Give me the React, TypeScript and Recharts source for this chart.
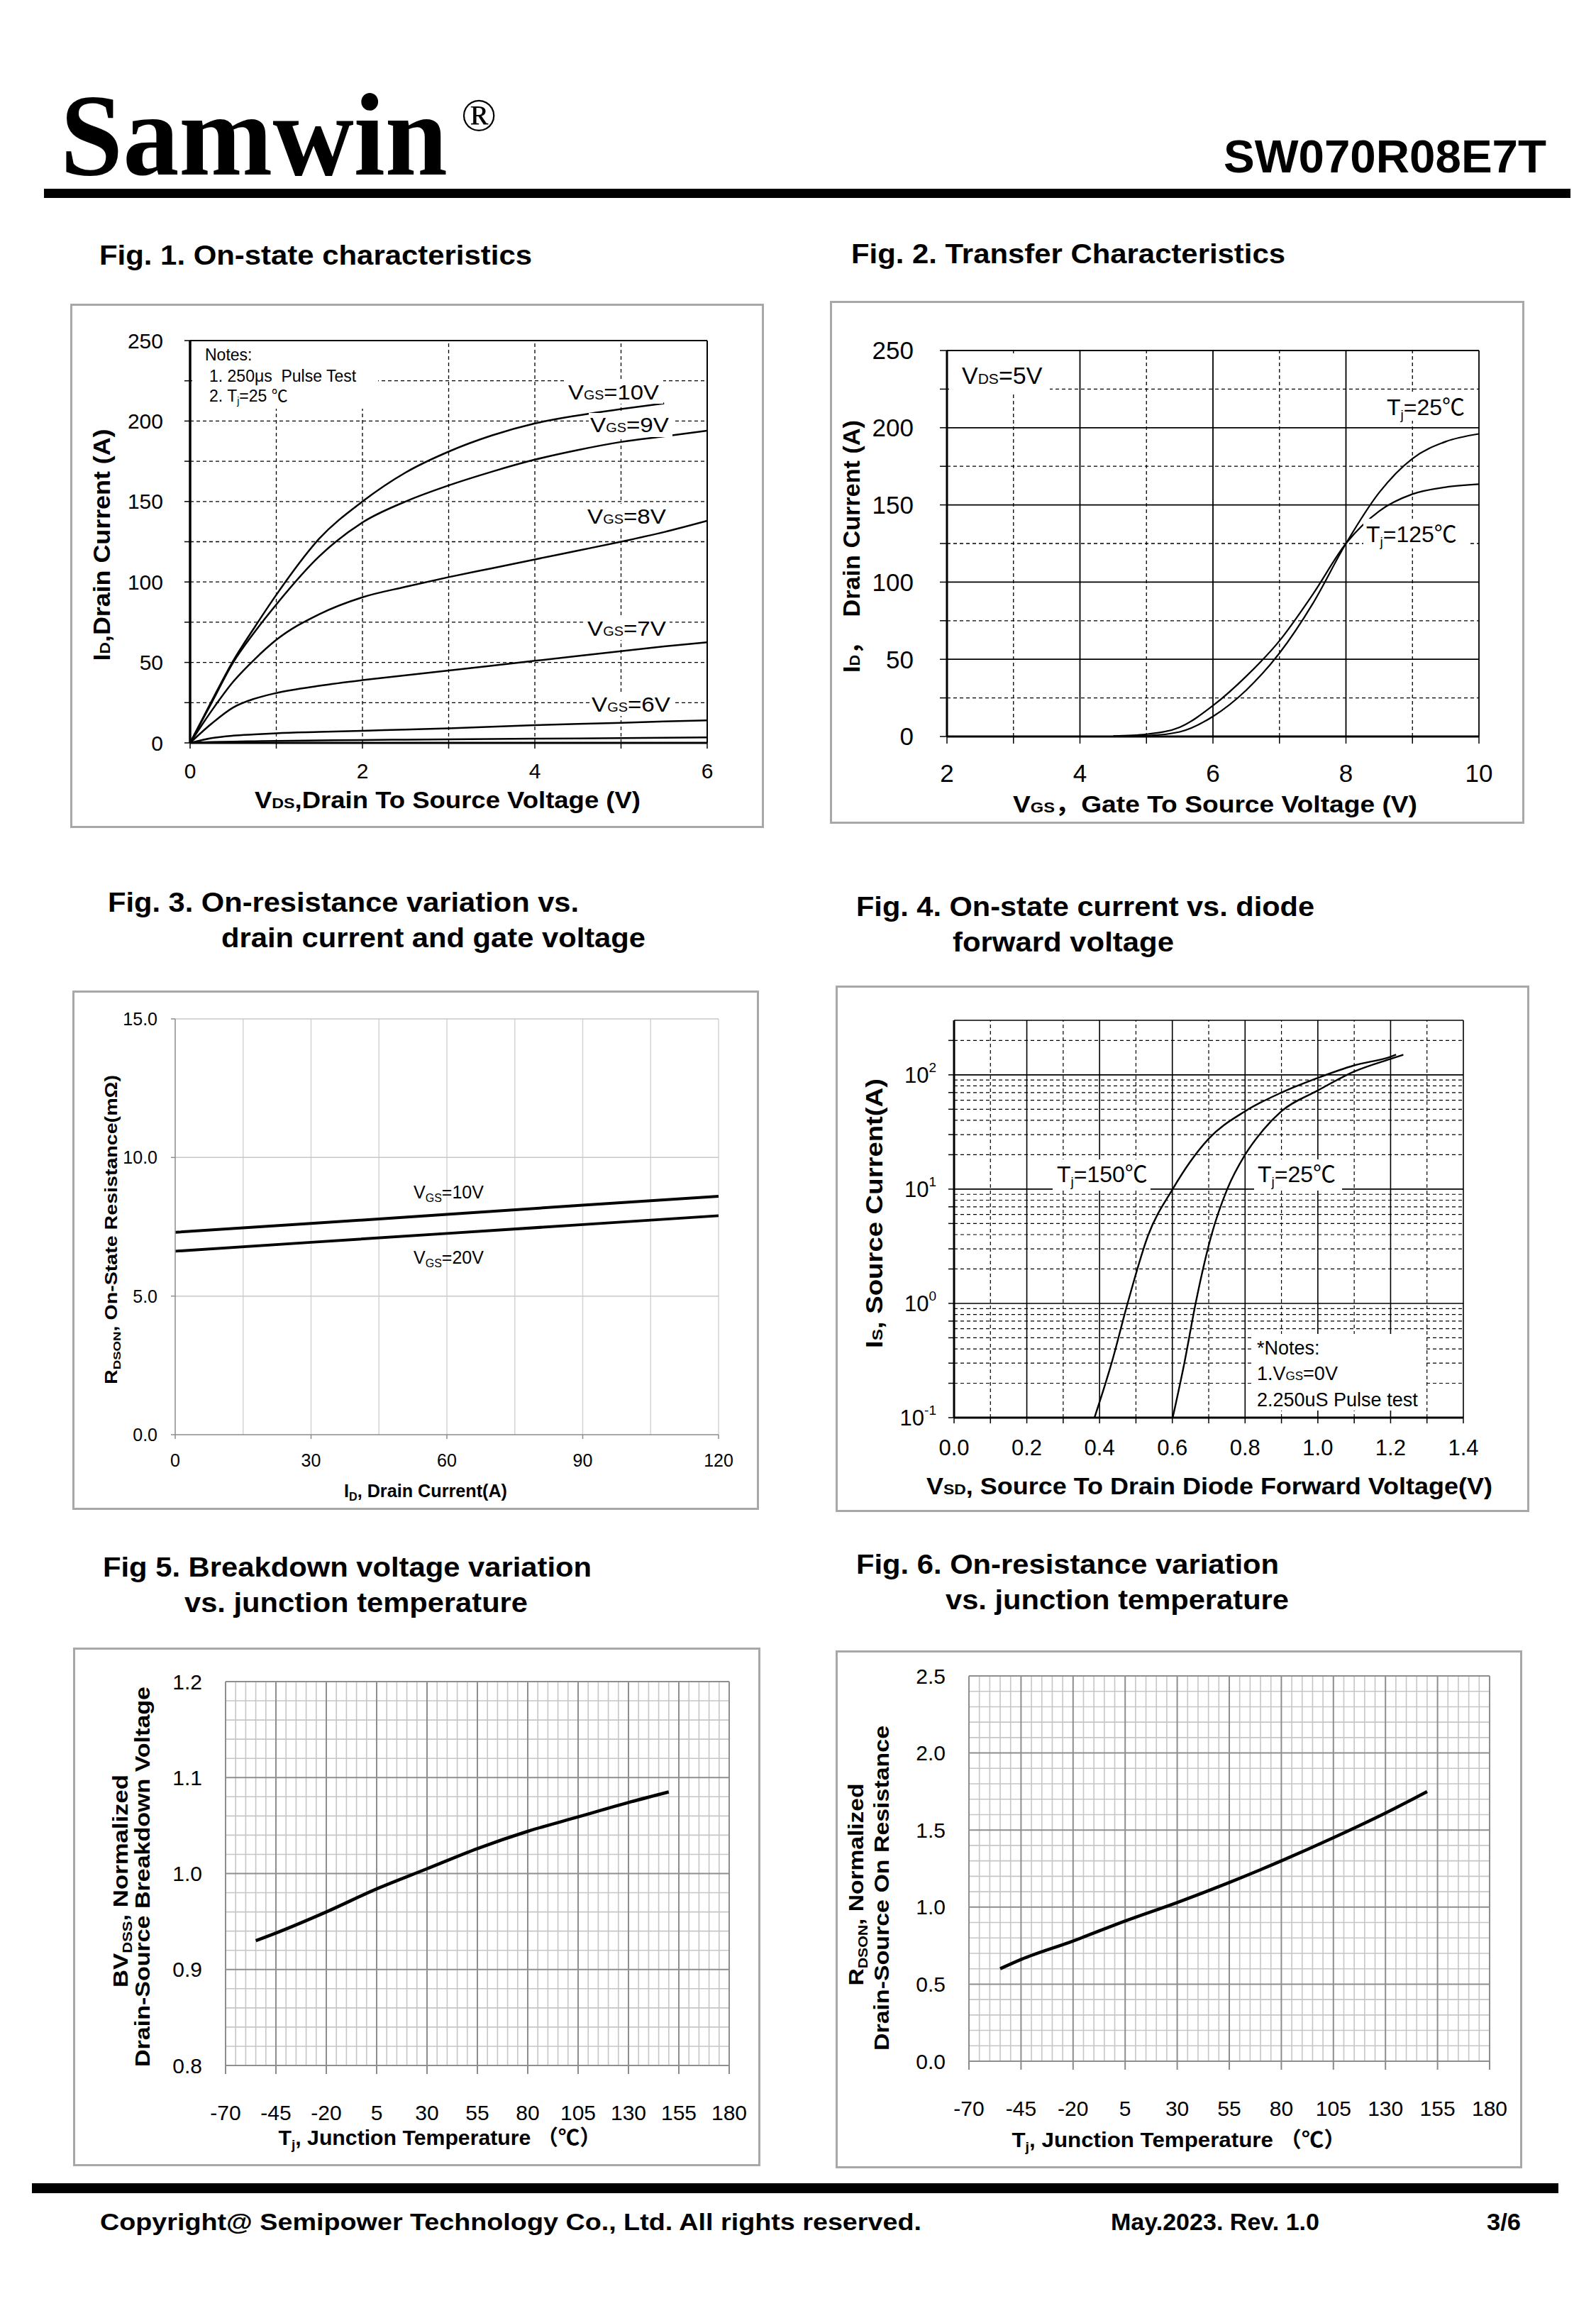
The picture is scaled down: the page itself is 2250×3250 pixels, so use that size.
import React from 'react';
import { LineChart, Line, XAxis, YAxis, ReferenceLine } from 'recharts';

const FONT = '"Liberation Sans", Arial, "Noto Sans CJK SC", sans-serif';
const SERIF = '"Liberation Serif", "Times New Roman", serif';

// ---------- Fig. 1 : on-state characteristics ----------
const f1Vds = [0, 0.25, 0.5, 0.75, 1, 1.5, 2, 2.5, 3, 3.5, 4, 4.5, 5, 5.5, 6];
const f1Vgs10 = [0, 26, 51, 72, 92, 127, 150, 168, 181, 191, 198.5, 203.5, 207.5, 211];
const f1Vgs9 = [0, 25, 50, 69, 86, 116, 137, 150, 160, 168.5, 176, 182, 187, 190.5, 194];
const f1Vgs8 = [0, 20, 38, 52, 64, 80, 90.5, 97, 103, 108.5, 114, 119.5, 125, 131, 138];
const f1Vgs7 = [0, 12, 22, 27.5, 31, 35.5, 39, 42, 45, 48, 51, 54, 57, 60, 62.5];
const f1Vgs6 = [0, 3, 4.5, 5.3, 6, 6.8, 7.5, 8.3, 9, 10, 11, 11.8, 12.5, 13.3, 14];
const f1Vgs5 = [0, 0.5, 0.8, 1, 1.2, 1.5, 1.8, 2, 2.2, 2.4, 2.6, 2.8, 3, 3.2, 3.4];
const f1XTicks = [0, 1, 2, 3, 4, 5, 6];
const f1XLabels = [0, 2, 4, 6];
const f1YTicks = [0, 25, 50, 75, 100, 125, 150, 175, 200, 225, 250];
const f1YLabels = [0, 50, 100, 150, 200, 250];

// ---------- Fig. 2 : transfer characteristics ----------
const f2Vgs = [4.5, 5, 5.5, 6, 6.5, 7, 7.5, 8, 8.5, 9, 9.5, 10];
const f2Tj25 = [0, 0.5, 3, 13, 30, 54, 86, 125, 158, 180, 191, 196];
const f2Tj125 = [0.3, 1.5, 6, 20, 39, 62, 92, 125, 146, 157, 161.5, 163.4];
const f2XTicks = [2, 3, 4, 5, 6, 7, 8, 9, 10];
const f2XLabels = [2, 4, 6, 8, 10];
const f2YTicks = [0, 25, 50, 75, 100, 125, 150, 175, 200, 225, 250];
const f2YLabels = [0, 50, 100, 150, 200, 250];

// ---------- Fig. 3 : Rdson vs drain current ----------
const f3Id = [0, 30, 60, 90, 120];
const f3Vgs10 = [7.3, 7.62, 7.95, 8.28, 8.6];
const f3Vgs20 = [6.62, 6.94, 7.26, 7.58, 7.9];
const f3XTicks = [0, 30, 60, 90, 120];
const f3XGrid = [15, 30, 45, 60, 75, 90, 105, 120];
const f3YTicks = [0, 5, 10, 15];

// ---------- Fig. 4 : diode forward voltage ----------
const f4Vsd150 = [0.386, 0.433, 0.477, 0.533, 0.601, 0.65, 0.7, 0.8, 0.9, 1.0, 1.1, 1.2, 1.215];
const f4Is150 = [0.1, 0.3, 1, 3.9, 10, 17.5, 27.6, 48, 70, 94, 121, 144, 150];
const f4Vsd25 = [0.601, 0.633, 0.664, 0.707, 0.751, 0.8, 0.85, 0.9, 1.0, 1.1, 1.2, 1.235];
const f4Is25 = [0.1, 0.3, 1, 3.9, 10, 20, 33, 48, 73, 107, 138, 150];
const f4XTicks = [0, 0.1, 0.2, 0.3, 0.4, 0.5, 0.6, 0.7, 0.8, 0.9, 1.0, 1.1, 1.2, 1.3, 1.4];
const f4XLabels = [0, 0.2, 0.4, 0.6, 0.8, 1.0, 1.2, 1.4];
const f4XMajor = [0.2, 0.4, 0.6, 0.8, 1.0, 1.2];
const f4XMinor = [0.1, 0.3, 0.5, 0.7, 0.9, 1.1, 1.3];
const f4YDecades = [1, 10, 100];
const f4YMinor = [0.2, 0.3, 0.4, 0.5, 0.6, 0.7, 0.8, 0.9, 2, 3, 4, 5, 6, 7, 8, 9, 20, 30, 40, 50, 60, 70, 80, 90, 200];
const f4YTicks = [0.1, ...f4YMinor.slice(0, 8), 1, ...f4YMinor.slice(8, 16), 10, ...f4YMinor.slice(16, 24), 100, 200];
const f4YLabels = [0.1, 1, 10, 100];
const f4YExp = ['-1', '0', '1', '2'];

// ---------- Fig. 5 : breakdown voltage vs Tj ----------
const f5Tj = [-55, -45, -20, 5, 30, 55, 80, 105, 130, 150];
const f5Bv = [0.93, 0.938, 0.96, 0.984, 1.005, 1.026, 1.044, 1.059, 1.074, 1.085];
const tjTicks = [-70, -45, -20, 5, 30, 55, 80, 105, 130, 155, 180];
const f5YTicks = [0.8, 0.9, 1.0, 1.1, 1.2];

// ---------- Fig. 6 : Rdson vs Tj ----------
const f6Tj = [-55, -45, -20, 5, 30, 55, 80, 105, 130, 150];
const f6Rn = [0.6, 0.66, 0.78, 0.91, 1.03, 1.16, 1.3, 1.45, 1.61, 1.75];
const f6YTicks = [0, 0.5, 1.0, 1.5, 2.0, 2.5];

const zip = (xs: number[], ys: number[]) => ys.map((y, i) => ({ x: xs[i], y }));
const range = (a: number, b: number, step: number) => {
  const out: number[] = [];
  for (let v = a; v <= b + 1e-9; v += step) out.push(Math.round(v * 1000) / 1000);
  return out;
};

type Box = [number, number, number, number];
const geo = (box: Box, plot: Box) => ({
  left: box[0],
  top: box[1],
  w: box[2] - box[0],
  h: box[3] - box[1],
  margin: { top: plot[1] - box[1], right: box[2] - plot[2], left: 0, bottom: 0 },
  yw: plot[0] - box[0],
  xh: box[3] - plot[3],
});

const g1 = geo([99, 428, 1077, 1167], [268, 480, 997, 1047]);
const g2 = geo([1170, 424, 2149, 1161], [1335, 494, 2085, 1038]);
const g3 = geo([102, 1396, 1070, 2128], [247, 1436, 1013, 2022]);
const g4 = geo([1178, 1389, 2156, 2131], [1345, 1438, 2063, 1998]);
const g5 = geo([103, 2322, 1072, 3053], [318, 2370, 1028, 2911]);
const g6 = geo([1178, 2326, 2146, 3056], [1366, 2362, 2100, 2905]);

const hl = (k: string, vals: number[], stroke: string, w: number, dash?: string) =>
  vals.map((v) => (
    <ReferenceLine key={k + 'y' + v} y={v} stroke={stroke} strokeWidth={w} strokeDasharray={dash} />
  ));
const vl = (k: string, vals: number[], stroke: string, w: number, dash?: string) =>
  vals.map((v) => (
    <ReferenceLine key={k + 'x' + v} x={v} stroke={stroke} strokeWidth={w} strokeDasharray={dash} />
  ));

const DASH = '5 4';

function Frame({ g }: { g: ReturnType<typeof geo> }) {
  return (
    <div
      style={{
        position: 'absolute',
        left: g.left,
        top: g.top,
        width: g.w,
        height: g.h,
        border: '3px solid #a8a8a8',
        boxSizing: 'border-box',
      }}
    />
  );
}

function At({ g, children }: { g: ReturnType<typeof geo>; children: React.ReactNode }) {
  return <div style={{ position: 'absolute', left: g.left, top: g.top }}>{children}</div>;
}

const tickFont = (s: number) => ({ fill: '#000', fontSize: s, fontFamily: FONT });

function LogTick(props: any) {
  const { x, y, payload } = props;
  const i = f4YLabels.indexOf(payload.value);
  if (i < 0) return <g />;
  return (
    <text x={x} y={y} dy={11} textAnchor="end" fontFamily={FONT} fontSize={31} fill="#000">
      10<tspan dy={-15} fontSize={19}>{f4YExp[i]}</tspan>
    </text>
  );
}

function Fig1() {
  const series = [f1Vgs10, f1Vgs9, f1Vgs8, f1Vgs7, f1Vgs6, f1Vgs5];
  return (
    <At g={g1}>
      <LineChart width={g1.w} height={g1.h} margin={g1.margin}>
        <XAxis
          type="number"
          dataKey="x"
          domain={[0, 6]}
          ticks={f1XTicks}
          tickFormatter={(v: number) => (f1XLabels.includes(v) ? String(v) : '')}
          height={g1.xh}
          axisLine={{ stroke: '#000', strokeWidth: 3 }}
          tickLine={{ stroke: '#000', strokeWidth: 1.5 }}
          tickSize={8}
          tickMargin={21}
          tick={tickFont(30)}
          allowDataOverflow
        />
        <YAxis
          type="number"
          domain={[0, 250]}
          ticks={f1YTicks}
          tickFormatter={(v: number) => (f1YLabels.includes(v) ? String(v) : '')}
          width={g1.yw}
          axisLine={{ stroke: '#000', strokeWidth: 3.5 }}
          tickLine={{ stroke: '#000', strokeWidth: 1.5 }}
          tickSize={8}
          tickMargin={30}
          tick={tickFont(30)}
          allowDataOverflow
        />
        {hl('a', [25, 50, 75, 100, 125, 150, 175, 200, 225], '#000', 1.3, DASH)}
        {vl('a', [1, 2, 3, 4, 5], '#000', 1.3, DASH)}
        {hl('f', [250], '#000', 2)}
        {vl('f', [6], '#000', 2)}
        {series.map((s, i) => (
          <Line
            key={'s' + i}
            data={zip(f1Vds, s)}
            dataKey="y"
            type="monotone"
            stroke="#000"
            strokeWidth={2.5}
            dot={false}
            isAnimationActive={false}
          />
        ))}
      </LineChart>
    </At>
  );
}

function Fig2() {
  return (
    <At g={g2}>
      <LineChart width={g2.w} height={g2.h} margin={g2.margin}>
        <XAxis
          type="number"
          dataKey="x"
          domain={[2, 10]}
          ticks={f2XTicks}
          tickFormatter={(v: number) => (f2XLabels.includes(v) ? String(v) : '')}
          height={g2.xh}
          axisLine={{ stroke: '#000', strokeWidth: 3 }}
          tickLine={{ stroke: '#000', strokeWidth: 1.5 }}
          tickSize={10}
          tickMargin={29}
          tick={tickFont(35)}
          allowDataOverflow
        />
        <YAxis
          type="number"
          domain={[0, 250]}
          ticks={f2YTicks}
          tickFormatter={(v: number) => (f2YLabels.includes(v) ? String(v) : '')}
          width={g2.yw}
          axisLine={{ stroke: '#000', strokeWidth: 3 }}
          tickLine={{ stroke: '#000', strokeWidth: 1.5 }}
          tickSize={10}
          tickMargin={37}
          tick={tickFont(35)}
          allowDataOverflow
        />
        {hl('d', [25, 75, 125, 175, 225], '#000', 1.3, DASH)}
        {vl('d', [3, 5, 7, 9], '#000', 1.3, DASH)}
        {hl('s', [50, 100, 150, 200, 250], '#000', 1.8)}
        {vl('s', [4, 6, 8, 10], '#000', 1.8)}
        <Line data={zip(f2Vgs, f2Tj25)} dataKey="y" type="monotone" stroke="#000" strokeWidth={2.2} dot={false} isAnimationActive={false} />
        <Line data={zip(f2Vgs, f2Tj125)} dataKey="y" type="monotone" stroke="#000" strokeWidth={2.2} dot={false} isAnimationActive={false} />
      </LineChart>
    </At>
  );
}

function Fig3() {
  return (
    <At g={g3}>
      <LineChart width={g3.w} height={g3.h} margin={g3.margin}>
        <XAxis
          type="number"
          dataKey="x"
          domain={[0, 120]}
          ticks={f3XTicks}
          height={g3.xh}
          axisLine={{ stroke: '#8c8c8c', strokeWidth: 1.5 }}
          tickLine={{ stroke: '#8c8c8c', strokeWidth: 1.5 }}
          tickSize={6}
          tickMargin={21}
          tick={tickFont(25)}
        />
        <YAxis
          type="number"
          domain={[0, 15]}
          ticks={f3YTicks}
          tickFormatter={(v: number) => v.toFixed(1)}
          width={g3.yw}
          axisLine={{ stroke: '#8c8c8c', strokeWidth: 1.5 }}
          tickLine={{ stroke: '#8c8c8c', strokeWidth: 1.5 }}
          tickSize={6}
          tickMargin={19}
          tick={tickFont(25)}
        />
        {vl('g', f3XGrid, '#d4d4d4', 1.5)}
        {hl('g', [5, 10, 15], '#c8c8c8', 1.5)}
        <Line data={zip(f3Id, f3Vgs10)} dataKey="y" type="linear" stroke="#000" strokeWidth={4} dot={false} isAnimationActive={false} />
        <Line data={zip(f3Id, f3Vgs20)} dataKey="y" type="linear" stroke="#000" strokeWidth={4} dot={false} isAnimationActive={false} />
      </LineChart>
    </At>
  );
}

function Fig4() {
  return (
    <At g={g4}>
      <LineChart width={g4.w} height={g4.h} margin={g4.margin}>
        <XAxis
          type="number"
          dataKey="x"
          domain={[0, 1.4]}
          ticks={f4XTicks}
          tickFormatter={(v: number) => (f4XLabels.includes(v) ? v.toFixed(1) : '')}
          height={g4.xh}
          axisLine={{ stroke: '#000', strokeWidth: 3 }}
          tickLine={{ stroke: '#000', strokeWidth: 1.5 }}
          tickSize={8}
          tickMargin={23}
          tick={tickFont(31)}
          allowDataOverflow
        />
        <YAxis
          type="number"
          scale="log"
          domain={[0.1, 300]}
          ticks={f4YTicks}
          tick={LogTick}
          width={g4.yw}
          axisLine={{ stroke: '#000', strokeWidth: 3 }}
          tickLine={{ stroke: '#000', strokeWidth: 1.5 }}
          tickSize={8}
          tickMargin={17}
          allowDataOverflow
        />
        {hl('d', f4YMinor, '#000', 1.2, DASH)}
        {vl('d', f4XMinor, '#000', 1.2, DASH)}
        {hl('s', [...f4YDecades, 300], '#000', 1.6)}
        {vl('s', [...f4XMajor, 1.4], '#000', 1.6)}
        <Line data={zip(f4Vsd150, f4Is150)} dataKey="y" type="monotone" stroke="#000" strokeWidth={2.4} dot={false} isAnimationActive={false} />
        <Line data={zip(f4Vsd25, f4Is25)} dataKey="y" type="monotone" stroke="#000" strokeWidth={2.4} dot={false} isAnimationActive={false} />
      </LineChart>
    </At>
  );
}

function TjChart({
  g,
  xs,
  ys,
  yDomain,
  yTicks,
  yMinor,
  yMajor,
}: {
  g: ReturnType<typeof geo>;
  xs: number[];
  ys: number[];
  yDomain: [number, number];
  yTicks: number[];
  yMinor: number[];
  yMajor: number[];
}) {
  return (
    <At g={g}>
      <LineChart width={g.w} height={g.h} margin={g.margin}>
        <XAxis
          type="number"
          dataKey="x"
          domain={[-70, 180]}
          ticks={tjTicks}
          height={g.xh}
          axisLine={false}
          tickLine={{ stroke: '#8a8a8a', strokeWidth: 2 }}
          tickSize={12}
          tickMargin={44}
          tick={tickFont(30)}
        />
        <YAxis
          type="number"
          domain={yDomain}
          ticks={yTicks}
          tickFormatter={(v: number) => v.toFixed(1)}
          width={g.yw}
          axisLine={false}
          tickLine={false}
          tickSize={0}
          tickMargin={33}
          tick={tickFont(30)}
        />
        {vl('m', range(-65, 175, 5).filter((v) => (v + 70) % 25 !== 0), '#c6c6c6', 1.6)}
        {hl('m', yMinor, '#c6c6c6', 1.6)}
        {vl('M', tjTicks, '#8e8e8e', 2)}
        {hl('M', yMajor, '#8e8e8e', 2)}
        <Line data={zip(xs, ys)} dataKey="y" type="monotone" stroke="#000" strokeWidth={4.5} dot={false} isAnimationActive={false} />
      </LineChart>
    </At>
  );
}

type TP = {
  x: number;
  y: number;
  s: number;
  b?: boolean;
  a?: 'start' | 'middle' | 'end';
  len?: number;
  rot?: boolean;
  fam?: string;
  children: React.ReactNode;
};
function Tx({ x, y, s, b, a = 'start', len, rot, fam, children }: TP) {
  const common: any = {
    fontSize: s,
    fontWeight: b ? 'bold' : 'normal',
    fontFamily: fam ?? FONT,
    fill: '#000',
    textAnchor: a,
    style: { whiteSpace: 'pre' },
  };
  if (len) {
    common.textLength = len;
    common.lengthAdjust = 'spacingAndGlyphs';
  }
  if (rot)
    return (
      <text transform={`translate(${x},${y}) rotate(-90)`} dy="0.36em" {...common}>
        {children}
      </text>
    );
  return (
    <text x={x} y={y} {...common}>
      {children}
    </text>
  );
}

const W = (x: number, y: number, w: number, h: number) => <rect x={x} y={y} width={w} height={h} fill="#fff" />;

// small subscript sitting on the baseline (datasheet style "VGS")
const sub = (t: string, s: number) => <tspan fontSize={s}>{t}</tspan>;
// lowered subscript followed by the rest of the text
const low = (t: string, s: number, d: number, rest: string) => (
  <>
    <tspan fontSize={s} dy={d}>{t}</tspan>
    <tspan dy={-d}>{rest}</tspan>
  </>
);

function Overlay() {
  return (
    <svg width={2250} height={3250} style={{ position: 'absolute', left: 0, top: 0, pointerEvents: 'none' }}>
      {/* header */}
      <Tx x={85} y={246} s={165} b fam={SERIF} len={546}>Samwin</Tx>
      <Tx x={650} y={184} s={66} fam={SERIF}>®</Tx>
      <Tx x={2180} y={243} s={64} b a="end" len={455}>SW070R08E7T</Tx>
      <rect x={62} y={266} width={2152} height={13} fill="#000" />

      {/* figure titles */}
      <Tx x={140} y={373} s={38} b len={610}>Fig. 1. On-state characteristics</Tx>
      <Tx x={1200} y={371} s={38} b len={612}>Fig. 2. Transfer Characteristics</Tx>
      <Tx x={152} y={1285} s={38} b len={664}>Fig. 3. On-resistance variation vs.</Tx>
      <Tx x={312} y={1335} s={38} b len={598}>drain current and gate voltage</Tx>
      <Tx x={1207} y={1291} s={38} b len={646}>Fig. 4. On-state current vs. diode</Tx>
      <Tx x={1343} y={1341} s={38} b len={312}>forward voltage</Tx>
      <Tx x={145} y={2222} s={38} b len={689}>Fig 5. Breakdown voltage variation</Tx>
      <Tx x={260} y={2272} s={38} b len={484}>vs. junction temperature</Tx>
      <Tx x={1207} y={2218} s={38} b len={596}>Fig. 6. On-resistance variation</Tx>
      <Tx x={1333} y={2268} s={38} b len={484}>vs. junction temperature</Tx>

      {/* Fig 1 annotations */}
      {W(271, 484, 262, 92)}
      <Tx x={289} y={508} s={23}>Notes:</Tx>
      <Tx x={295} y={538} s={23}>1. 250μs  Pulse Test</Tx>
      <Tx x={295} y={566} s={23}>
        2. T{low('j', 14, 4, '=25 ℃')}
      </Tx>
      {W(799, 535, 136, 34)}
      <Tx x={801} y={563} s={30} len={128}>V{sub('GS', 18)}=10V</Tx>
      {W(830, 582, 118, 34)}
      <Tx x={832} y={609} s={30} len={111}>V{sub('GS', 18)}=9V</Tx>
      {W(826, 710, 118, 34)}
      <Tx x={828} y={738} s={30} len={111}>V{sub('GS', 18)}=8V</Tx>
      {W(826, 868, 118, 34)}
      <Tx x={828} y={896} s={30} len={111}>V{sub('GS', 18)}=7V</Tx>
      {W(832, 975, 118, 34)}
      <Tx x={834} y={1003} s={30} len={111}>V{sub('GS', 18)}=6V</Tx>
      <Tx x={631} y={1139} s={33} b a="middle" len={544}>
        V{sub('DS', 21)},Drain To Source Voltage (V)
      </Tx>
      <Tx x={143} y={768} s={33} b a="middle" rot len={327}>
        I{sub('D', 21)},Drain Current (A)
      </Tx>

      {/* Fig 2 annotations */}
      {W(1338, 500, 142, 56)}
      <Tx x={1356} y={541} s={34}>V{sub('DS', 21)}=5V</Tx>
      {W(1950, 553, 122, 40)}
      <Tx x={1955} y={585} s={32}>
        T{low('j', 19, 6, '=25℃')}
      </Tx>
      {W(1922, 731, 150, 42)}
      <Tx x={1926} y={764} s={32}>
        T{low('j', 19, 6, '=125℃')}
      </Tx>
      <Tx x={1713} y={1145} s={33} b a="middle" len={570}>
        V{sub('GS', 21)}，Gate To Source Voltage (V)
      </Tx>
      <Tx x={1200} y={770} s={33} b a="middle" rot len={356}>
        I{sub('D', 21)}，  Drain Current (A)
      </Tx>

      {/* Fig 3 annotations */}
      <Tx x={583} y={1689} s={25}>
        V{low('GS', 16, 5, '=10V')}
      </Tx>
      <Tx x={583} y={1781} s={25}>
        V{low('GS', 16, 5, '=20V')}
      </Tx>
      <Tx x={600} y={2110} s={25} b a="middle" len={230}>
        I{low('D', 16, 5, ', Drain Current(A)')}
      </Tx>
      <Tx x={157} y={1733} s={23} b a="middle" rot len={436}>
        R{low('DSON', 15, 5, ', On-State Resistance(mΩ)')}
      </Tx>

      {/* Fig 4 annotations */}
      {W(1484, 1634, 138, 44)}
      <Tx x={1490} y={1666} s={32}>
        T{low('j', 19, 6, '=150℃')}
      </Tx>
      {W(1768, 1634, 124, 44)}
      <Tx x={1773} y={1666} s={32}>
        T{low('j', 19, 6, '=25℃')}
      </Tx>
      {W(1766, 1880, 244, 108)}
      <Tx x={1772} y={1909} s={27}>*Notes:</Tx>
      <Tx x={1772} y={1945} s={27}>1.V{sub('GS', 17)}=0V</Tx>
      <Tx x={1772} y={1982} s={27}>2.250uS Pulse test</Tx>
      <Tx x={1705} y={2106} s={33} b a="middle" len={798}>
        V{sub('SD', 21)}, Source To Drain Diode Forward Voltage(V)
      </Tx>
      <Tx x={1232} y={1710} s={33} b a="middle" rot len={380}>
        I{sub('S', 21)}, Source Current(A)
      </Tx>

      {/* Fig 5 annotations */}
      <Tx x={620} y={3023} s={30} b a="middle" len={455}>
        T{low('j', 19, 6, ', Junction Temperature （℃）')}
      </Tx>
      <Tx x={169} y={2651} s={30} b a="middle" rot len={300}>
        BV{low('DSS', 19, 6, ', Normalized')}
      </Tx>
      <Tx x={200} y={2645} s={30} b a="middle" rot len={536}>
        Drain-Source Breakdown Voltage
      </Tx>

      {/* Fig 6 annotations */}
      <Tx x={1662} y={3026} s={30} b a="middle" len={471}>
        T{low('j', 19, 6, ', Junction Temperature （℃）')}
      </Tx>
      <Tx x={1206} y={2656} s={30} b a="middle" rot len={285}>
        R{low('DSON', 19, 6, ', Normalized')}
      </Tx>
      <Tx x={1242} y={2661} s={30} b a="middle" rot len={458}>
        Drain-Source On Resistance
      </Tx>

      {/* footer */}
      <rect x={45} y={3077} width={2152} height={14} fill="#000" />
      <Tx x={141} y={3143} s={33} b len={1158}>Copyright@ Semipower Technology Co., Ltd. All rights reserved.</Tx>
      <Tx x={1566} y={3143} s={33} b len={294}>May.2023. Rev. 1.0</Tx>
      <Tx x={2096} y={3143} s={33} b len={48}>3/6</Tx>
    </svg>
  );
}

export default function App() {
  return (
    <div style={{ position: 'absolute', left: 0, top: 0, width: 2250, height: 3250, background: '#fff', overflow: 'hidden' }}>
      <Frame g={g1} />
      <Frame g={g2} />
      <Frame g={g3} />
      <Frame g={g4} />
      <Frame g={g5} />
      <Frame g={g6} />
      <Fig1 />
      <Fig2 />
      <Fig3 />
      <Fig4 />
      <TjChart
        g={g5}
        xs={f5Tj}
        ys={f5Bv}
        yDomain={[0.8, 1.2]}
        yTicks={f5YTicks}
        yMinor={range(0.82, 1.18, 0.02).filter((v) => Math.round(v * 100) % 10 !== 0)}
        yMajor={f5YTicks}
      />
      <TjChart
        g={g6}
        xs={f6Tj}
        ys={f6Rn}
        yDomain={[0, 2.5]}
        yTicks={f6YTicks}
        yMinor={range(0.1, 2.4, 0.1).filter((v) => Math.round(v * 10) % 5 !== 0)}
        yMajor={f6YTicks}
      />
      <Overlay />
    </div>
  );
}
